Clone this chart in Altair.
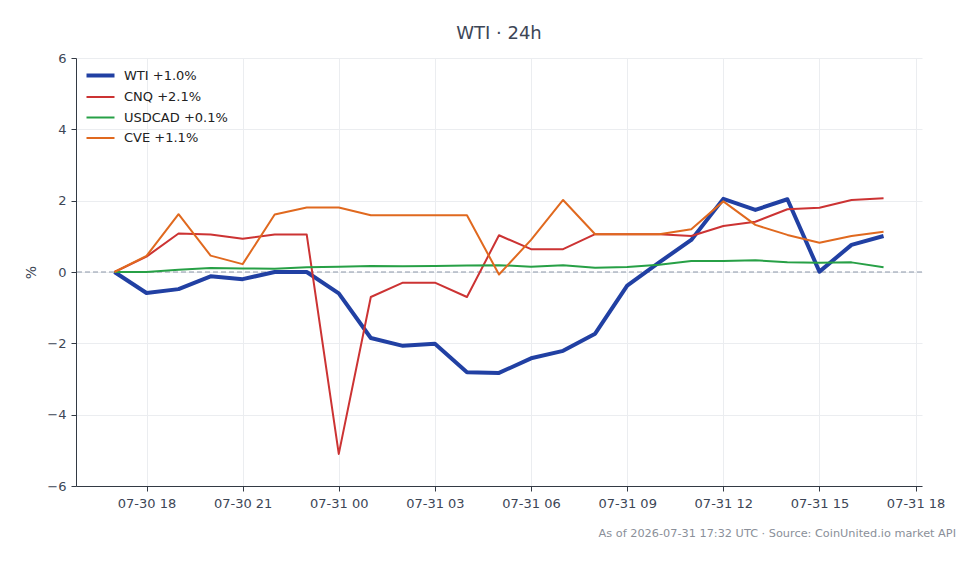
import altair as alt
import pandas as pd

# Hourly timestamps over the last 24 hours
times = pd.date_range("2026-07-30 17:00", periods=25, freq="h").strftime("%Y-%m-%dT%H:%M:%S").tolist()

# Percent change since the first reading
wti = [0.0, -0.59, -0.48, -0.12, -0.20, 0.0, 0.0, -0.60, -1.85, -2.07, -2.01, -2.81, -2.83,
       -2.42, -2.21, -1.73, -0.38, 0.27, 0.90, 2.05, 1.74, 2.04, 0.01, 0.76, 1.01]
cnq = [0.0, 0.43, 1.08, 1.05, 0.93, 1.05, 1.05, -5.10, -0.70, -0.30, -0.30, -0.70, 1.03,
       0.64, 0.64, 1.06, 1.06, 1.06, 1.01, 1.29, 1.41, 1.76, 1.80, 2.02, 2.07]
usdcad = [0.0, 0.0, 0.06, 0.11, 0.10, 0.09, 0.13, 0.15, 0.17, 0.16, 0.17, 0.18, 0.19,
          0.15, 0.19, 0.12, 0.14, 0.20, 0.31, 0.31, 0.33, 0.27, 0.26, 0.27, 0.13]
cve = [0.0, 0.45, 1.62, 0.46, 0.22, 1.61, 1.81, 1.81, 1.59, 1.59, 1.59, 1.59, -0.07,
       0.90, 2.02, 1.06, 1.06, 1.06, 1.20, 1.98, 1.32, 1.04, 0.82, 1.01, 1.13]

symbols = ["WTI", "CNQ", "USDCAD", "CVE"]
series_values = [wti, cnq, usdcad, cve]
colors = ["#2140a3", "#cc3333", "#27a046", "#e0691f"]
widths = [4, 2, 2, 2]

# X-axis tick positions (every three hours)
tick_times = ["2026-07-30T18:00:00", "2026-07-30T21:00:00", "2026-07-31T00:00:00",
              "2026-07-31T03:00:00", "2026-07-31T06:00:00", "2026-07-31T09:00:00",
              "2026-07-31T12:00:00", "2026-07-31T15:00:00", "2026-07-31T18:00:00"]

labels = [f"{s} {v[-1]:+.1f}%" for s, v in zip(symbols, series_values)]

rows = []
for label, vals, w in zip(labels, series_values, widths):
    for t, v in zip(times, vals):
        rows.append({"time": t, "pct": v, "series": label, "sw": w})
df = pd.DataFrame(rows)


def dt(stamp):
    d, h = stamp.split("T")
    y, mo, da = (int(p) for p in d.split("-"))
    hh, mm, _ = (int(p) for p in h.split(":"))
    return alt.DateTime(year=y, month=mo, date=da, hours=hh, minutes=mm)


ink = "#3d4656"
x_scale = alt.Scale(domain=[dt("2026-07-30T15:48:00"), dt("2026-07-31T18:12:00")])

# Legend symbols take the same stroke width as their line
width_expr = " : ".join(f"datum.value === '{l}' ? {w}" for l, w in zip(labels, widths)) + " : 2"

lines = alt.Chart(df).mark_line(strokeJoin="round", clip=True).encode(
    x=alt.X("time:T", scale=x_scale,
            axis=alt.Axis(format="%m-%d %H", title=None,
                          values=[dt(t) for t in tick_times])),
    y=alt.Y("pct:Q", scale=alt.Scale(domain=[-6, 6], nice=False),
            axis=alt.Axis(values=[-6, -4, -2, 0, 2, 4, 6], format="d", title="%")),
    color=alt.Color("series:N", sort=labels,
                    scale=alt.Scale(domain=labels, range=colors),
                    legend=alt.Legend(title=None, orient="none", legendX=18, legendY=11,
                                      symbolType="stroke", symbolSize=784,
                                      symbolStrokeWidth=alt.ExprRef(expr=width_expr),
                                      labelOffset=17, rowPadding=6.5,
                                      labelFontSize=13, labelColor="#222222",
                                      labelFont="DejaVu Sans")),
    strokeWidth=alt.StrokeWidth("sw:Q", scale=None, legend=None),
)

zero = alt.Chart(pd.DataFrame({"v": [0]})).mark_rule(
    color="#8c97a8", strokeDash=[5, 3], strokeWidth=1
).encode(y="v:Q")

footer = alt.Chart(pd.DataFrame({"t": ["As of 2026-07-31 17:32 UTC · Source: CoinUnited.io market API"]})).mark_text(
    align="right", baseline="middle", fontSize=11.3, color="#8a8f99", font="DejaVu Sans"
).encode(x=alt.value(880), y=alt.value(476), text="t:N")

chart = alt.layer(zero, lines, footer).properties(
    width=846, height=428,
    autosize=alt.AutoSizeParams(type="none"),
    padding={"left": 76, "top": 58, "right": 58, "bottom": 78},
    title=alt.TitleParams("WTI · 24h", anchor="middle", fontSize=18, fontWeight="normal",
                          color=ink, font="DejaVu Sans", offset=9),
).configure_view(stroke=None).configure_axis(
    labelFont="DejaVu Sans", labelFontSize=13, labelColor=ink,
    titleFont="DejaVu Sans", titleFontSize=14, titleColor=ink, titleFontWeight="normal",
    domainColor="#333a44", tickColor="#333a44", tickSize=5,
    gridColor="#ebedf0", gridWidth=1, labelPadding=4,
).configure_axisX(grid=True, labelPadding=6).configure_axisY(
    grid=True, titlePadding=8, labelPadding=5
)

chart.save("out.html", embed_options={"renderer": "svg", "actions": False})
